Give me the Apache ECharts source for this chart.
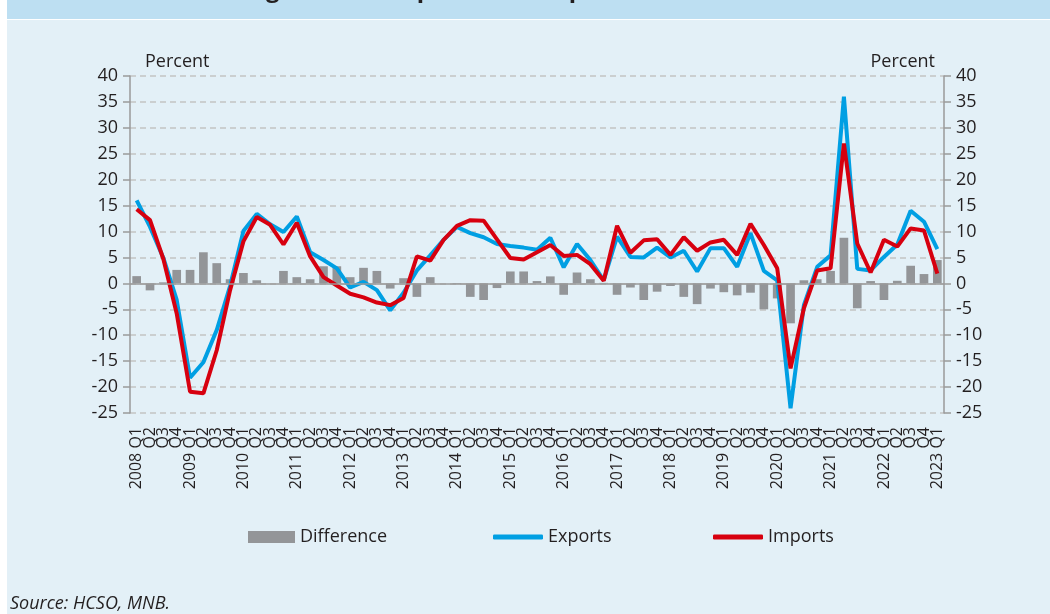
<!DOCTYPE html>
<html>
<head>
<meta charset="utf-8">
<script src="https://cdn.jsdelivr.net/npm/echarts@6/dist/echarts.min.js"></script>
<style>
  html, body { margin: 0; padding: 0; background: #fff; }
  #chart { width: 1050px; height: 614px; }
</style>
</head>
<body>
<div id="chart"></div>
<script>
  // quarters 2008 Q1 .. 2023 Q1
  var years = ['2008','2009','2010','2011','2012','2013','2014','2015','2016','2017','2018','2019','2020','2021','2022','2023'];
  var quarters = ['Q1','Q2','Q3','Q4'];

  // annual change, percent
  var exportsData = [16.0, 10.9, 4.9, -3.2, -18.2, -15.2, -9.0, -0.5,
    10.1, 13.4, 11.4, 9.9, 12.9, 6.0, 4.5, 2.9,
    -0.8, 0.3, -1.3, -5.2, -1.8, 2.5, 5.4, 8.4,
    10.9, 9.7, 8.9, 7.6, 7.2, 6.9, 6.5, 8.8,
    3.1, 7.6, 4.5, 0.6, 9.0, 5.1, 5.0, 6.9,
    5.0, 6.3, 2.3, 6.8, 6.8, 3.2, 9.7, 2.4,
    0.6, -24.1, -4.2, 3.2, 5.4, 36.0, 2.8, 2.5,
    5.1, 7.5, 14.0, 11.9, 6.6];
  var importsData = [14.3, 12.2, 4.7, -5.8, -20.9, -21.2, -12.9, -1.3,
    8.1, 12.8, 11.3, 7.5, 11.7, 5.2, 1.2, -0.4,
    -2.0, -2.7, -3.7, -4.2, -2.8, 5.2, 4.4, 8.4,
    11.1, 12.2, 12.1, 8.5, 4.9, 4.6, 6.0, 7.4,
    5.3, 5.5, 3.7, 0.5, 11.1, 5.9, 8.3, 8.5,
    5.5, 8.9, 6.3, 7.9, 8.4, 5.5, 11.5, 7.4,
    2.9, -16.4, -4.8, 2.5, 2.9, 27.0, 7.7, 2.1,
    8.4, 7.1, 10.6, 10.2, 1.9];
  var differenceData = [1.4, -1.35, 0.2, 2.6, 2.6, 6.0, 3.9, 0.8,
    2.0, 0.6, 0.0, 2.4, 1.2, 0.8, 3.3, 3.3,
    1.2, 3.0, 2.4, -1.0, 1.0, -2.6, 1.2, 0.0,
    -0.15, -2.6, -3.2, -0.9, 2.3, 2.3, 0.45, 1.35,
    -2.2, 2.1, 0.8, 0.1, -2.2, -0.8, -3.2, -1.6,
    -0.5, -2.6, -4.0, -1.0, -1.7, -2.3, -1.8, -5.0,
    -2.9, -7.7, 0.6, 0.8, 2.4, 8.8, -4.8, 0.45,
    -3.2, 0.5, 3.4, 1.8, 4.5];

  var yTicks = { min: -25, max: 40, interval: 5 };

  var categories = [];
  years.forEach(function (y) {
    quarters.forEach(function (q, k) {
      if (y === '2023' && k > 0) return;
      categories.push(k === 0 ? y + ' ' + q : q);
    });
  });

  var fontFamily = '"Open Sans", "Noto Sans", sans-serif';
  var textColor = '#231f20';
  var axisColor = '#9a9a9a';

  var myChart = echarts.init(document.getElementById('chart'));

  var yAxisBase = function (showSplit) {
    return {
      type: 'value',
      min: yTicks.min,
      max: yTicks.max,
      interval: yTicks.interval,
      axisLine: { show: true, lineStyle: { color: axisColor, width: 1.5 } },
      axisTick: { show: true, length: 7, lineStyle: { color: axisColor, width: 1.5 } },
      axisLabel: { color: textColor, fontSize: 18, fontFamily: fontFamily, margin: 12 },
      splitLine: {
        show: showSplit,
        lineStyle: { color: '#c4c4c4', type: [6, 4], width: 1.5 }
      }
    };
  };

  var option = {
    animation: false,
    backgroundColor: 'transparent',
    graphic: [
      { type: 'rect', z: -10, shape: { x: 7, y: 0, width: 1043, height: 19 }, style: { fill: '#bddff2' } },
      { type: 'rect', z: -10, shape: { x: 7, y: 20, width: 1043, height: 594 }, style: { fill: '#e3f0f7' } },
      { type: 'text', z: -5, style: { text: 'Annual growth of exports and imports', x: 174, y: 2,
          verticalAlign: 'bottom', font: 'bold 24px ' + fontFamily, fill: '#231f20' } },
      { type: 'text', style: { text: 'Percent', x: 145, y: 62, verticalAlign: 'middle',
          font: '18px ' + fontFamily, fill: textColor } },
      { type: 'text', style: { text: 'Percent', x: 935, y: 62, align: 'right', verticalAlign: 'middle',
          font: '18px ' + fontFamily, fill: textColor } },
      { type: 'text', style: { text: 'Source: HCSO, MNB.', x: 10, y: 604, verticalAlign: 'middle',
          font: 'italic 18px ' + fontFamily, fill: textColor } }
    ],
    grid: { left: 130, right: 106, top: 76, bottom: 201, containLabel: false },
    legend: [
      { data: ['Difference'], left: 243, top: 523, icon: 'rect', itemWidth: 47, itemHeight: 12,
        textStyle: { fontSize: 18, fontFamily: fontFamily, color: textColor } },
      { data: ['Exports'], left: 488, top: 523, icon: 'roundRect', itemWidth: 50, itemHeight: 5,
        textStyle: { fontSize: 18, fontFamily: fontFamily, color: textColor } },
      { data: ['Imports'], left: 708, top: 523, icon: 'roundRect', itemWidth: 50, itemHeight: 5,
        textStyle: { fontSize: 18, fontFamily: fontFamily, color: textColor } }
    ],
    xAxis: {
      type: 'category',
      data: categories,
      boundaryGap: true,
      axisLine: { show: false, onZero: false },
      axisTick: { show: false },
      axisLabel: {
        interval: 0,
        rotate: 90,
        margin: 14,
        color: textColor,
        fontSize: 16,
        fontFamily: fontFamily
      }
    },
    yAxis: [yAxisBase(true), yAxisBase(false)],
    series: [
      {
        name: 'Difference',
        type: 'bar',
        data: differenceData,
        barWidth: '65%',
        itemStyle: { color: '#939598' },
        markLine: {
          silent: true,
          symbol: 'none',
          label: { show: false },
          lineStyle: { color: axisColor, type: 'solid', width: 1.5 },
          data: [{ yAxis: 0 }]
        }
      },
      {
        name: 'Exports',
        type: 'line',
        data: exportsData,
        symbol: 'none',
        lineStyle: { color: '#009fe3', width: 4 },
        itemStyle: { color: '#009fe3' }
      },
      {
        name: 'Imports',
        type: 'line',
        data: importsData,
        symbol: 'none',
        lineStyle: { color: '#d7000f', width: 4 },
        itemStyle: { color: '#d7000f' }
      }
    ]
  };

  myChart.setOption(option);
</script>
</body>
</html>
